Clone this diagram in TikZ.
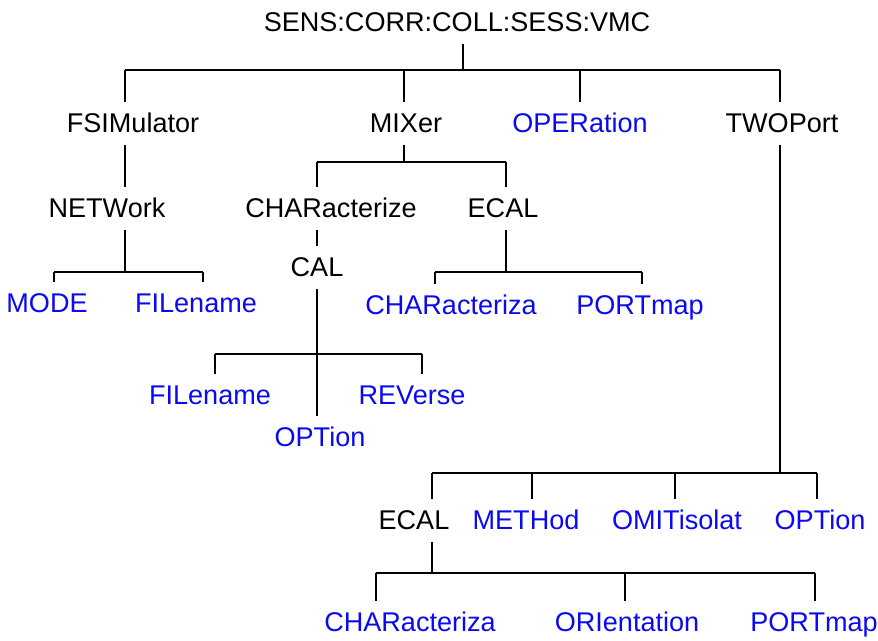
\documentclass[tikz,border=0pt]{standalone}
\usepackage{fontspec}
\setmainfont{Liberation Sans}
\usetikzlibrary{calc}
\definecolor{cmdblue}{RGB}{10,10,240}

\tikzset{
  cmd/.style={inner sep=0pt, outer xsep=0pt, outer ysep=0.24cm,
    text height=0.38cm, text depth=0pt,
    font=\fontsize{15.4}{18}\selectfont},
  leaf/.style={cmd, text=cmdblue},
  link/.style={line width=0.7pt}
}

\begin{document}
\begin{tikzpicture}[x=0.02cm, y=-0.02cm]
  \useasboundingbox (0,0) rectangle (878,640);

  % Nodes
  \node[cmd] (root) at (457,22) {SENS:CORR:COLL:SESS:VMC};

  \node[cmd]  (fsim)  at (133,123) {FSIMulator};
  \node[cmd]  (mixer) at (406,123) {MIXer};
  \node[leaf] (oper)  at (580,123) {OPERation};
  \node[cmd]  (twop)  at (782,123) {TWOPort};

  \node[cmd] (net)   at (107,208) {NETWork};
  \node[cmd] (char)  at (331,208) {CHARacterize};
  \node[cmd] (ecalm) at (503,208) {ECAL};
  \node[cmd] (cal)   at (317,267) {CAL};

  \node[leaf] (mode)   at (47,303)  {MODE};
  \node[leaf] (filen)  at (196,303) {FILename};
  \node[leaf] (charam) at (451,305) {CHARacteriza};
  \node[leaf] (portm)  at (640,305) {PORTmap};

  \node[leaf] (filec) at (210,395) {FILename};
  \node[leaf] (rev)   at (412,395) {REVerse};
  \node[leaf] (optc)  at (320,437) {OPTion};

  \node[cmd]  (ecalt) at (414,520) {ECAL};
  \node[leaf] (meth)  at (526,520) {METHod};
  \node[leaf] (omit)  at (677,520) {OMITisolat};
  \node[leaf] (optt)  at (820,520) {OPTion};

  \node[leaf] (charat) at (410,622) {CHARacteriza};
  \node[leaf] (ori)    at (627,622) {ORIentation};
  \node[leaf] (portt)  at (814,622) {PORTmap};

  % Junctions on the bars
  \coordinate (j-root) at (463,70);
  \coordinate (j-fsim) at (125,70);
  \coordinate (j-mixer) at (404,70);
  \coordinate (j-oper) at (580,70);
  \coordinate (j-twop) at (780,70);

  \coordinate (j-mix) at (404,162);
  \coordinate (j-char) at (317,162);
  \coordinate (j-ecalm) at (506,162);

  \coordinate (j-net) at (125,272);
  \coordinate (j-mode) at (54,272);
  \coordinate (j-filen) at (203,272);

  \coordinate (j-ecm) at (506,272);
  \coordinate (j-charam) at (435,272);
  \coordinate (j-portm) at (642,272);

  \coordinate (j-cal) at (317,354);
  \coordinate (j-filec) at (215,354);
  \coordinate (j-rev) at (422,354);

  \coordinate (j-tw) at (780,473);
  \coordinate (j-ecalt) at (432,473);
  \coordinate (j-meth) at (532,473);
  \coordinate (j-omit) at (675,473);
  \coordinate (j-optt) at (817,473);

  \coordinate (j-ect) at (432,573);
  \coordinate (j-charat) at (376,573);
  \coordinate (j-ori) at (625,573);
  \coordinate (j-portt) at (815,573);

  % Root level
  \draw[link] (root.south -| j-root) -- (j-root);
  \draw[link] (j-fsim) -- (j-twop);
  \foreach \n in {fsim,mixer,oper,twop}
    \draw[link] (j-\n) -- (\n.north -| j-\n);

  % FSIMulator branch
  \draw[link] (fsim.south -| j-fsim) -- (net.north -| j-fsim);
  \draw[link] (net.south -| j-net) -- (j-net);
  \draw[link] (j-mode) -- (j-filen);
  \foreach \n in {mode,filen}
    \draw[link] (j-\n) -- (\n.north -| j-\n);

  % MIXer branch
  \draw[link] (mixer.south -| j-mix) -- (j-mix);
  \draw[link] (j-char) -- (j-ecalm);
  \foreach \n in {char,ecalm}
    \draw[link] (j-\n) -- (\n.north -| j-\n);
  \draw[link] (char.south -| j-char) -- (cal.north -| j-char);

  \draw[link] (ecalm.south -| j-ecm) -- (j-ecm);
  \draw[link] (j-charam) -- (j-portm);
  \foreach \n in {charam,portm}
    \draw[link] (j-\n) -- (\n.north -| j-\n);

  \draw[link] (cal.south -| j-cal) -- (optc.north -| j-cal);
  \draw[link] (j-filec) -- (j-rev);
  \foreach \n in {filec,rev}
    \draw[link] (j-\n) -- (\n.north -| j-\n);

  % TWOPort branch
  \draw[link] (twop.south -| j-tw) -- (j-tw);
  \draw[link] (j-ecalt) -- (j-optt);
  \foreach \n in {ecalt,meth,omit,optt}
    \draw[link] (j-\n) -- (\n.north -| j-\n);

  \draw[link] (ecalt.south -| j-ect) -- (j-ect);
  \draw[link] (j-charat) -- (j-portt);
  \foreach \n in {charat,ori,portt}
    \draw[link] (j-\n) -- (\n.north -| j-\n);
\end{tikzpicture}
\end{document}
